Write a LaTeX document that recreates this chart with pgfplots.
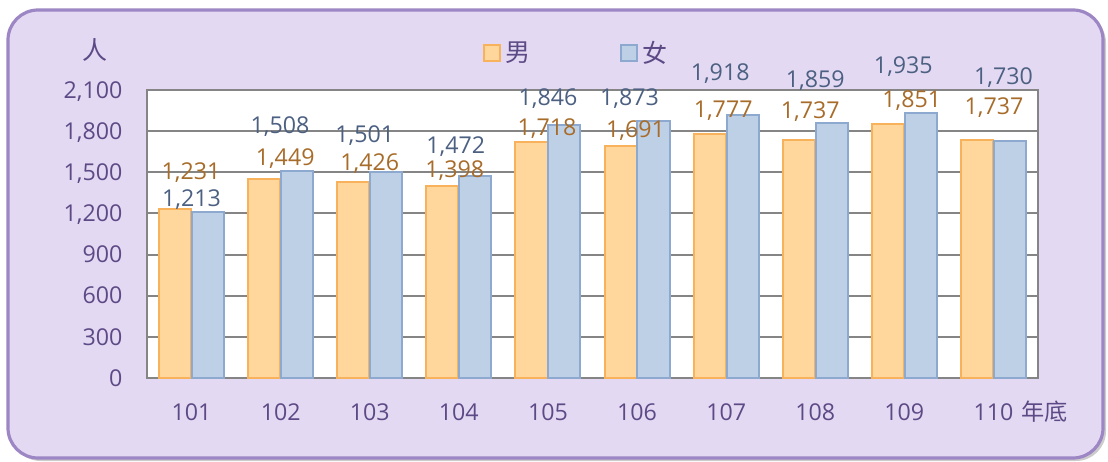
\documentclass[border=0pt]{standalone}
\usepackage{fontspec}
\setmainfont{Open Sans}
\newfontfamily\cjk{Noto Sans CJK TC}
\usepackage{pgfplots}
\usepackage{pgfplotstable}
\pgfplotsset{compat=1.18}

\definecolor{panelbg}{HTML}{E4D9F2}
\definecolor{panelline}{HTML}{9D86C4}
\definecolor{tickc}{HTML}{5C4A86}
\definecolor{gridc}{HTML}{858585}
\definecolor{malefill}{HTML}{FFD69C}
\definecolor{maleline}{HTML}{F8B25C}
\definecolor{femalefill}{HTML}{BED0E6}
\definecolor{femaleline}{HTML}{8DA9CF}
\definecolor{malelab}{HTML}{A86C2A}
\definecolor{femalelab}{HTML}{4C6082}

% x = category index (101..110), dx/dy = label offset from bar top in pt
\pgfplotstableread{
x y dx dy
0 1231 -0.25 18.1
1 1449 2.25 10.4
2 1426 0 9.5
3 1398 -2 7.6
4 1718 -0.5 6.7
5 1691 -0.8 7.6
6 1777 -1.5 11.6
7 1737 -2.5 13.9
8 1851 3.75 11.6
9 1737 0.25 15.9
}\male

\pgfplotstableread{
x y dx dy
0 1213 0 5.8
1 1508 -0.35 22.3
2 1501 -2.5 18.1
3 1472 -1.5 14.6
4 1846 0 12.9
5 1873 -3.8 11.1
6 1918 -3 20.5
7 1859 0 21
8 1935 -0.5 22.8
9 1730 5 31.4
}\female

\begin{document}
\begin{tikzpicture}
\fill[white] (0,0) rectangle (554pt,230.5pt);
\fill[gray!40, rounded corners=15pt] (5.5pt,0pt) rectangle (553pt,224pt);
\draw[line width=1.6pt, draw=panelline, fill=panelbg, rounded corners=15pt] (4pt,1.5pt) rectangle (551.5pt,225.5pt);
\node[text=tickc, font=\cjk\fontsize{12.5}{14}\selectfont] at (47.5pt,205.5pt) {人};

\begin{axis}[
    at={(73.5pt,41.5pt)}, anchor=south west,
    scale only axis,
    width=445.5pt, height=144pt,
    xmin=-0.5, xmax=9.5,
    ymin=0, ymax=2100,
    ytick={0,300,...,2100},
    xtick={0,...,9},
    xticklabels={101,102,103,104,105,106,107,108,109,{110\rlap{\hspace{4pt}\cjk 年底}}},
    major tick length=0pt,
    axis background/.style={fill=white},
    axis line style={draw=gridc, line width=1pt},
    ymajorgrids,
    major grid style={draw=gridc, line width=1pt},
    clip=false,
    /pgf/number format/assume math mode=true,
    tick label style={text=tickc, font=\fontsize{11.6}{13}\selectfont},
    yticklabel style={anchor=base east, xshift=-8.8pt, yshift=-4.1pt},
    xticklabel style={anchor=base, yshift=-21pt},
    legend style={at={(rel axis cs:0.377,1.128)}, anchor=west, draw=none, fill=none,
        inner sep=0pt, text=tickc, font=\cjk\fontsize{12.5}{14}\selectfont},
    legend columns=2,
    legend image code/.code={\draw[#1] (0pt,-4pt) rectangle (8pt,4pt);},
]
\addplot[ybar, bar width=0.36, bar shift=-0.185, fill=malefill, draw=maleline, line width=1pt,
    nodes near coords,
    visualization depends on={\thisrow{dx} \as \labdx},
    visualization depends on={\thisrow{dy} \as \labdy},
    every node near coord/.append style={anchor=center, xshift=\labdx pt, yshift=\labdy pt,
        font=\fontsize{11.6}{13}\selectfont, text=malelab}] table[x=x, y=y] {\male};
\addlegendentry{男\hspace{43pt}\null}
\addplot[ybar, bar width=0.36, bar shift=0.185, fill=femalefill, draw=femaleline, line width=1pt,
    nodes near coords,
    visualization depends on={\thisrow{dx} \as \labdx},
    visualization depends on={\thisrow{dy} \as \labdy},
    every node near coord/.append style={anchor=center, xshift=\labdx pt, yshift=\labdy pt,
        font=\fontsize{11.6}{13}\selectfont, text=femalelab}] table[x=x, y=y] {\female};
\addlegendentry{女}
\end{axis}
\end{tikzpicture}
\end{document}
